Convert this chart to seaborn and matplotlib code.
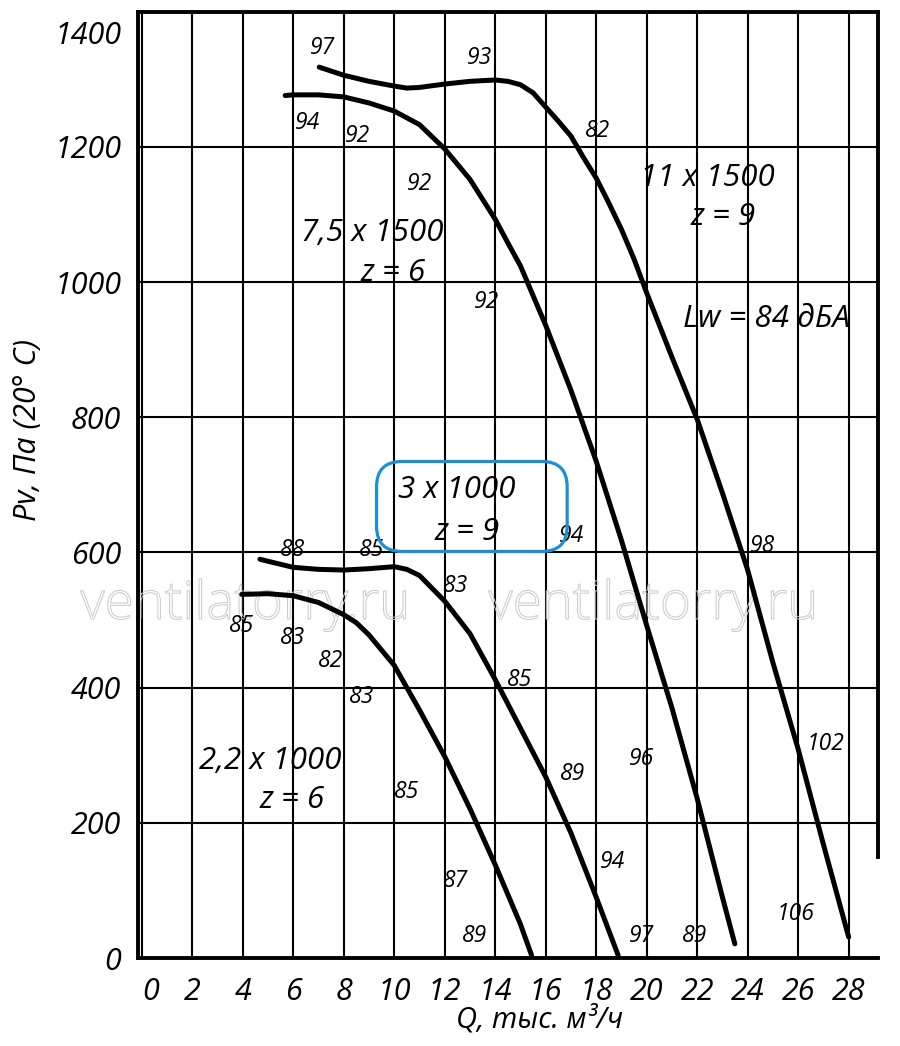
import matplotlib
matplotlib.use("Agg")
import matplotlib.pyplot as plt
import matplotlib.patheffects as pe
from matplotlib.patches import FancyBboxPatch
from matplotlib.transforms import ScaledTranslation
import seaborn as sns
import pandas as pd

# ---------------- data ----------------
# 11 x 1500, z = 9
q_a = [7.03, 8, 9, 10, 10.5, 11, 12, 13, 14, 14.5, 15, 15.5, 16, 16.5, 17, 17.5, 18, 18.5, 19, 19.5, 20, 21, 22, 23, 24, 25, 26, 27, 28]
p_a = [1318, 1306, 1297, 1290, 1287, 1288, 1293, 1297, 1299, 1297, 1292, 1280, 1259, 1238, 1216, 1184, 1154, 1117, 1078, 1034, 984, 889, 797, 688, 574, 437, 309, 168, 31]
# 7,5 x 1500, z = 6
q_b = [5.68, 6, 7, 8, 9, 10, 11, 12, 13, 14, 14.5, 15, 15.5, 16, 17, 18, 19, 20, 21, 22, 23, 23.49]
p_b = [1276, 1277, 1277, 1274, 1265, 1253, 1233, 1197, 1152, 1093, 1058, 1024, 980, 936, 840, 735, 618, 492, 370, 236, 90, 21]
# 3 x 1000, z = 9
q_c = [4.68, 5, 6, 7, 8, 9, 10, 10.5, 11, 12, 13, 14, 15, 16, 17, 18, 18.87]
p_c = [590, 587, 578, 575, 574, 576, 579, 575, 566, 528, 480, 412, 340, 268, 185, 90, 4]
# 2,2 x 1000, z = 6
q_d = [3.96, 5, 6, 7, 8, 8.5, 9, 10, 11, 12, 13, 14, 15, 15.44]
p_d = [538, 539, 536, 526, 508, 496, 478, 433, 367, 298, 221, 138, 50, 4]

x_ticks = list(range(0, 29, 2))
y_ticks = list(range(0, 1401, 200))

# noise-level labels along the curves
noise_text = ["97", "93", "94", "92", "92", "82", "92", "94", "98", "88", "85", "83",
              "85", "83", "82", "85", "83", "89", "96", "102", "85", "94", "87", "106",
              "89", "97", "89"]
noise_q = [7.18, 13.39, 6.58, 8.56, 11.02, 18.07, 13.67, 17.04, 24.6, 5.99, 9.12, 12.44,
           3.97, 5.99, 7.49, 14.98, 8.72, 17.08, 19.81, 27.1, 10.5, 18.66, 12.44, 25.91,
           13.19, 19.81, 21.91]
noise_p = [1346, 1332, 1236, 1216, 1145, 1224, 971, 625, 610, 603, 603, 551,
           491, 474, 440, 412, 386, 272, 294, 316, 245, 142, 114, 65,
           33, 33, 33]

# motor labels
motor_text = ["11 x 1500", "z = 9", "7,5 x 1500", "z = 6", "Lw = 84 дБА",
              "3 x 1000", "z = 9", "2,2 x 1000", "z = 6"]
motor_q = [22.39, 23.02, 9.12, 9.95, 24.76, 12.48, 12.88, 5.07, 5.94]
motor_p = [1154, 1097, 1072, 1014, 946, 692, 631, 291, 234]

# highlight box around "3 x 1000"
box_q = [9.3, 16.85]
box_p = [601.5, 734.6]

watermark_q = [4.09, 20.25]
watermark_p = [522, 522]

# ---------------- style ----------------
sns.set_theme(style="white")
plt.rcParams["font.family"] = ["Open Sans", "DejaVu Sans"]
plt.rcParams["font.style"] = "italic"

fig = plt.figure(figsize=(9, 10.46), dpi=100)
ax = fig.add_axes([0.1533, 0.0841, 0.8222, 0.9047])

curves = pd.concat([
    pd.DataFrame({"Q": q_a, "P": p_a, "fan": "A"}),
    pd.DataFrame({"Q": q_b, "P": p_b, "fan": "B"}),
    pd.DataFrame({"Q": q_c, "P": p_c, "fan": "C"}),
    pd.DataFrame({"Q": q_d, "P": p_d, "fan": "D"}),
], ignore_index=True)

sns.lineplot(data=curves, x="Q", y="P", hue="fan", units="fan", estimator=None,
             sort=False, palette=["black"] * 4, linewidth=3.6, legend=False,
             ax=ax, zorder=4, solid_capstyle="round", solid_joinstyle="round")

ax.set_xlim(-0.15, 29.16)
ax.set_ylim(0, 1400)
ax.set_xticks(x_ticks)
ax.set_yticks(y_ticks)
ax.set_xticklabels([str(v) for v in x_ticks])
ax.set_yticklabels([str(v) for v in y_ticks])

ax.grid(True, color="black", linewidth=1.5)
ax.set_axisbelow(True)

for s in ax.spines.values():
    s.set_visible(True)
    s.set_color("black")
    s.set_linewidth(2.8)
ax.spines["right"].set_bounds(150, 1400)

ax.tick_params(axis="both", which="major", labelsize=22, direction="out",
               length=7, width=1.5, color="black", labelcolor="black")
ax.tick_params(axis="y", pad=5)
ax.tick_params(axis="x", pad=7)
for t, v in zip(ax.xaxis.get_major_ticks(), x_ticks):
    if v <= 20:
        t.tick1line.set_visible(False)

# shift "0" x-label right, "1400" y-label down
xl0 = ax.xaxis.get_major_ticks()[0].label1
xl0.set_transform(xl0.get_transform() + ScaledTranslation(0.09, 0, fig.dpi_scale_trans))
yl_top = ax.yaxis.get_major_ticks()[-1].label1
yl_top.set_transform(yl_top.get_transform() + ScaledTranslation(0, -0.21, fig.dpi_scale_trans))

ax.set_xlabel("Q, тыс. м³/ч", fontsize=21, va="center", color="black")
ax.xaxis.set_label_coords(0.543, -0.0655)
ax.set_ylabel("Pv, Па (20° C)", fontsize=22, va="center", color="black")
ax.yaxis.set_label_coords(-0.148, 0.558)

for txt, q, p in zip(noise_text, noise_q, noise_p):
    ax.text(q, p, txt, fontsize=16.5, ha="center", va="center", color="black", zorder=5)

for txt, q, p in zip(motor_text, motor_q, motor_p):
    ax.text(q, p, txt, fontsize=22.5, ha="center", va="center", color="black", zorder=5)

for q, p in zip(watermark_q, watermark_p):
    ax.text(q, p, "ventilatorry.ru", fontsize=38, fontstyle="normal", fontweight="light",
            ha="center", va="center", color=(1, 1, 1, 0), zorder=2,
            path_effects=[pe.Stroke(linewidth=0.7, foreground="#c8c8c8")])

box = FancyBboxPatch((box_q[0], box_p[0]), box_q[1] - box_q[0], box_p[1] - box_p[0],
                     boxstyle="round,pad=0,rounding_size=1.0", mutation_aspect=37.4,
                     facecolor="none", edgecolor="#1a8fd8", linewidth=2.3, zorder=5)
ax.add_patch(box)

fig.savefig("out.png", dpi=100)
